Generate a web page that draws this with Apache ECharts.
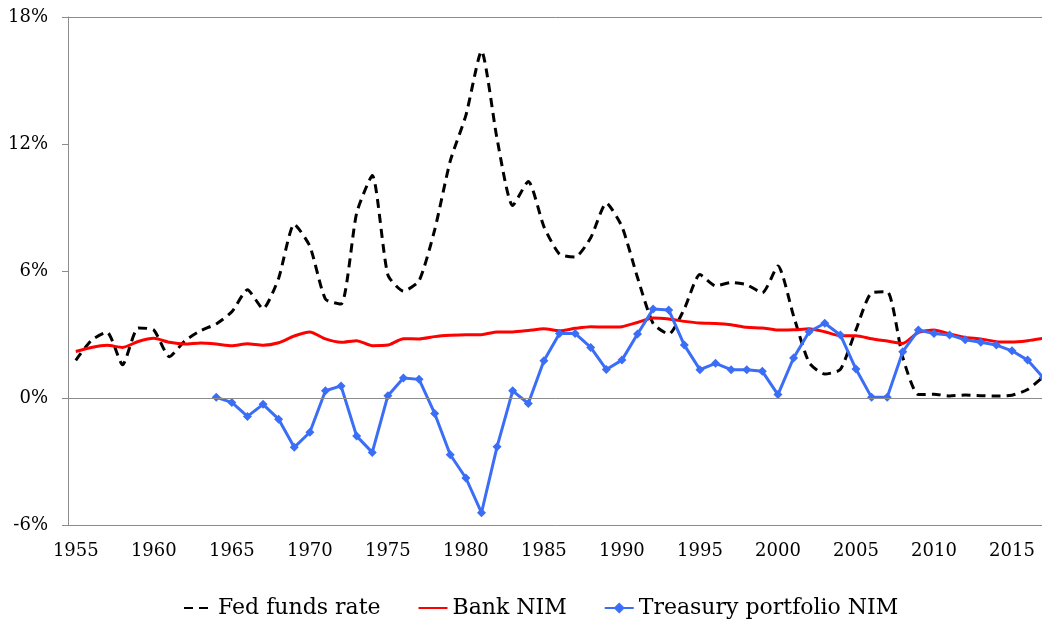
<!DOCTYPE html>
<html>
<head>
<meta charset="utf-8">
<title>Fed funds rate and NIM</title>
<script src="https://cdn.jsdelivr.net/npm/echarts@6/dist/echarts.min.js"></script>
<style>
    html, body {margin: 0; padding: 0; background: #fff;}
    #main {width: 1042px; height: 622px;}
</style>
</head>
<body>
<div id="main"></div>
<script>
/* jshint esversion:6 */
// years 1955 - 2017
let years = [];
for (let y = 1955; y <= 2017; y++) years.push(String(y));

let fedFunds = [1.78, 2.73, 3.11, 1.57, 3.31, 3.21, 1.95, 2.71, 3.18, 3.50,
    4.07, 5.11, 4.22, 5.66, 8.21, 7.17, 4.67, 4.44, 8.74, 10.51,
    5.82, 5.05, 5.54, 7.94, 11.20, 13.35, 16.39, 12.24, 9.09, 10.23,
    8.10, 6.80, 6.66, 7.57, 9.21, 8.10, 5.69, 3.52, 3.02, 4.21,
    5.83, 5.30, 5.46, 5.35, 4.97, 6.24, 3.88, 1.67, 1.13, 1.35,
    3.22, 4.97, 5.02, 1.92, 0.16, 0.18, 0.10, 0.14, 0.11, 0.09,
    0.13, 0.40, 1.00];

let bankNim = [2.20, 2.39, 2.49, 2.39, 2.67, 2.82, 2.63, 2.55, 2.60, 2.55,
    2.47, 2.56, 2.49, 2.61, 2.93, 3.12, 2.79, 2.63, 2.71, 2.47,
    2.50, 2.80, 2.79, 2.90, 2.96, 2.99, 2.99, 3.12, 3.12, 3.19,
    3.27, 3.18, 3.29, 3.37, 3.35, 3.37, 3.57, 3.78, 3.73, 3.62,
    3.54, 3.52, 3.46, 3.34, 3.31, 3.21, 3.22, 3.27, 3.13, 2.94,
    2.94, 2.80, 2.69, 2.58, 3.10, 3.21, 3.02, 2.86, 2.79, 2.66,
    2.64, 2.71, 2.82];

// no treasury series before 1964
let treasuryNim = [null, null, null, null, null, null, null, null, null,
    0.03, -0.21, -0.87, -0.30, -1.00, -2.33, -1.62, 0.34, 0.57, -1.80,
    -2.57, 0.11, 0.94, 0.88, -0.73, -2.68, -3.78, -5.42, -2.30, 0.34,
    -0.26, 1.76, 3.05, 3.05, 2.39, 1.35, 1.79, 3.02, 4.20, 4.16,
    2.50, 1.34, 1.64, 1.34, 1.34, 1.26, 0.16, 1.89, 3.13, 3.53,
    2.98, 1.37, 0.03, 0.03, 2.19, 3.21, 3.05, 2.98, 2.75, 2.63,
    2.50, 2.23, 1.79, 0.97];

let yTicks = [-6, 0, 6, 12, 18];

function NimChart(container){
    let _font = 'DejaVu Serif';
    let _axisColor = '#8c8c8c';
    let _option = {
        animation: false,
        backgroundColor: '#fff',
        // plot runs past the right edge of the picture, the last year is cut
        grid: {left: 68, width: 983, top: 17, bottom: 97,
               containLabel: false, outerBoundsMode: 'none'},
        legend: {
            left: 178,
            top: 592,
            itemWidth: 29,
            itemHeight: 14,
            itemGap: 37,
            textStyle: {fontFamily: _font, fontSize: 22, color: '#000'},
            data: [
                {name: 'Fed funds rate', itemStyle: {opacity: 0}},
                {name: 'Bank NIM', itemStyle: {opacity: 0}},
                {name: 'Treasury portfolio NIM'}
            ]
        },
        xAxis: {
            type: 'category',
            data: years,
            boundaryGap: true,
            axisLine: {onZero: false, lineStyle: {color: _axisColor, width: 1}},
            axisTick: {interval: 4, length: 6, lineStyle: {color: _axisColor}},
            axisLabel: {
                interval: 4,
                margin: 17,
                fontFamily: _font,
                fontSize: 18,
                color: '#000'
            },
            splitLine: {show: false}
        },
        yAxis: {
            type: 'value',
            min: yTicks[0],
            max: yTicks[yTicks.length - 1],
            interval: 6,
            axisLine: {show: true, lineStyle: {color: _axisColor, width: 1}},
            axisTick: {show: true, length: 6, lineStyle: {color: _axisColor}},
            axisLabel: {
                margin: 20,
                formatter: '{value}%',
                fontFamily: _font,
                fontSize: 18,
                color: '#000'
            },
            splitLine: {show: false}
        },
        series: [
            {
                name: 'Fed funds rate',
                type: 'line',
                data: fedFunds,
                symbol: 'none',
                smooth: 0.2,
                lineStyle: {color: '#000', width: 3, type: [9, 6]},
                itemStyle: {color: '#000'},
                markLine: {
                    silent: true,
                    symbol: 'none',
                    label: {show: false},
                    lineStyle: {color: _axisColor, width: 1, type: 'solid'},
                    data: [{yAxis: 0}, {yAxis: 18}]
                },
                z: 2
            },
            {
                name: 'Bank NIM',
                type: 'line',
                data: bankNim,
                symbol: 'none',
                smooth: 0.2,
                lineStyle: {color: '#ff0000', width: 3},
                itemStyle: {color: '#ff0000'},
                z: 3
            },
            {
                name: 'Treasury portfolio NIM',
                type: 'line',
                data: treasuryNim,
                symbol: 'diamond',
                symbolSize: 9,
                showAllSymbol: true,
                lineStyle: {color: '#3b6ef6', width: 3},
                itemStyle: {color: '#3b6ef6'},
                z: 4
            }
        ]
    };
    let chart = echarts.init(container, null, {renderer: 'canvas'});
    chart.setOption(_option);
    return chart;
}

NimChart(document.getElementById('main'));
</script>
</body>
</html>
